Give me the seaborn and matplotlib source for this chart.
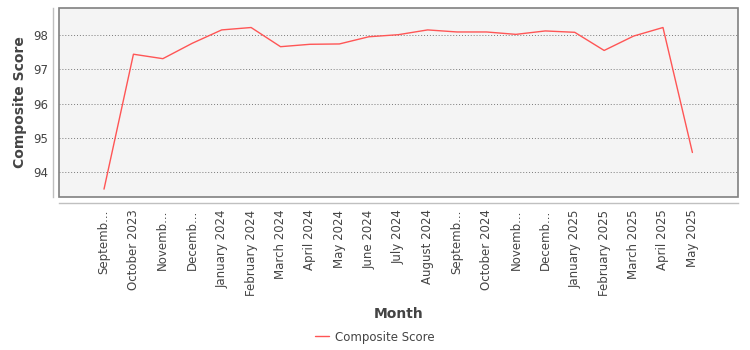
import matplotlib
matplotlib.use("Agg")
import matplotlib.pyplot as plt
from matplotlib.patches import Rectangle
from matplotlib.lines import Line2D
import seaborn as sns
import pandas as pd

months = [
    "September 2023", "October 2023", "November 2023", "December 2023",
    "January 2024", "February 2024", "March 2024", "April 2024", "May 2024",
    "June 2024", "July 2024", "August 2024", "September 2024", "October 2024",
    "November 2024", "December 2024", "January 2025", "February 2025",
    "March 2025", "April 2025", "May 2025",
]
tick_labels = [
    "Septemb...", "October 2023", "Novemb...", "Decemb...",
    "January 2024", "February 2024", "March 2024", "April 2024", "May 2024",
    "June 2024", "July 2024", "August 2024", "Septemb...", "October 2024",
    "Novemb...", "Decemb...", "January 2025", "February 2025",
    "March 2025", "April 2025", "May 2025",
]
composite_score = [
    93.50, 97.44, 97.31, 97.76, 98.15, 98.22, 97.66, 97.73, 97.74,
    97.95, 98.01, 98.15, 98.09, 98.09, 98.02, 98.12, 98.08, 97.55,
    97.97, 98.22, 94.57,
]
yticks = [94, 95, 96, 97, 98]

df = pd.DataFrame({"idx": range(len(months)), "Month": months,
                   "Composite Score": composite_score})

sns.set_style("white")
plt.rcParams["font.family"] = ["DejaVu Sans"]

text_color = "#444444"
line_color = "#ff5555"

fig = plt.figure(figsize=(7.5, 3.5), dpi=100)
ax = fig.add_axes([59 / 750, 1 - 197 / 350, (738 - 59) / 750, (197 - 8) / 350])
ax.set_facecolor("#f4f4f4")

sns.lineplot(data=df, x="idx", y="Composite Score", ax=ax,
             color=line_color, linewidth=1.0, legend=False)

ax.set_xlim(-1.53, len(months) - 1 + 1.55)
ax.set_ylim(93.27, 98.79)
ax.set_xticks(range(len(months)))
ax.set_xticklabels(tick_labels)
ax.set_yticks(yticks)
ax.set_yticklabels([str(v) for v in yticks])

ax.yaxis.grid(True, color="#7a7a7a", linestyle=(0, (1, 2)), linewidth=0.7)
ax.xaxis.grid(False)

# plot frame
ax.add_patch(Rectangle((0, 0), 1, 1, transform=ax.transAxes, fill=False,
                       edgecolor="#808080", linewidth=1.2, clip_on=False,
                       zorder=5))

# axis lines drawn slightly outside the frame
for side in ("top", "right"):
    ax.spines[side].set_visible(False)
for side in ("left", "bottom"):
    ax.spines[side].set_position(("outward", 4))
    ax.spines[side].set_color("#c0c0c0")
    ax.spines[side].set_linewidth(1.0)

ax.tick_params(axis="x", length=3, width=0.8, color="#c0c0c0", pad=2,
               labelrotation=90, labelsize=8.5, labelcolor=text_color)
ax.tick_params(axis="y", length=0, pad=4, labelsize=8.5,
               labelcolor=text_color)

ax.set_xlabel("Month", fontsize=10, fontweight="bold", color=text_color,
              labelpad=8)
ax.set_ylabel("Composite Score", fontsize=10, fontweight="bold",
              color=text_color, labelpad=4)

handle = Line2D([], [], color=line_color, linewidth=1.0)
fig.legend([handle], ["Composite Score"], loc="center",
           bbox_to_anchor=(375 / 750, 1 - 337 / 350), frameon=False,
           fontsize=8.5, labelcolor=text_color, handlelength=1.2,
           handletextpad=0.5)

fig.savefig("out.png", dpi=100, facecolor="white")
